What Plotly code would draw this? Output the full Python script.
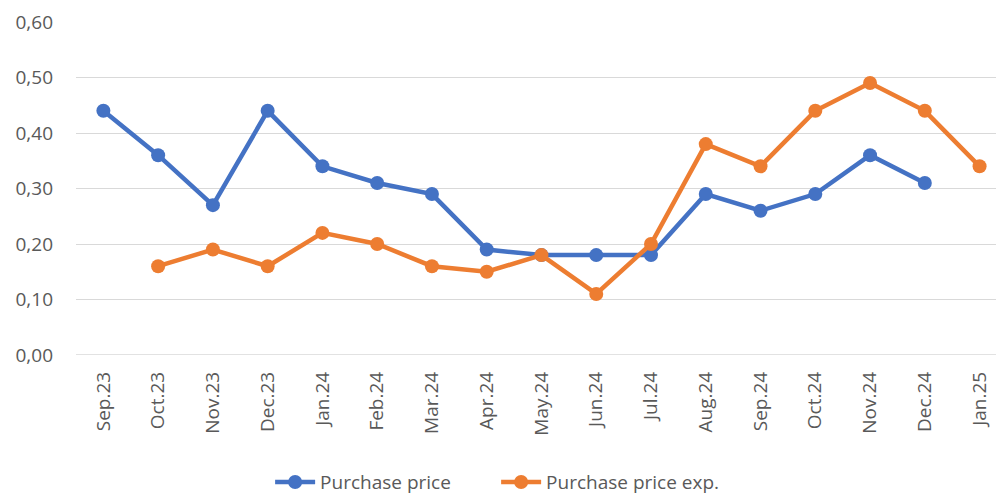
import plotly.graph_objects as go

categories = ["Sep.23", "Oct.23", "Nov.23", "Dec.23", "Jan.24", "Feb.24", "Mar.24",
              "Apr.24", "May.24", "Jun.24", "Jul.24", "Aug.24", "Sep.24", "Oct.24",
              "Nov.24", "Dec.24", "Jan.25"]
purchase_price = [0.44, 0.36, 0.27, 0.44, 0.34, 0.31, 0.29, 0.19, 0.18, 0.18, 0.18,
                  0.29, 0.26, 0.29, 0.36, 0.31, None]
purchase_price_exp = [None, 0.16, 0.19, 0.16, 0.22, 0.20, 0.16, 0.15, 0.18, 0.11, 0.20,
                      0.38, 0.34, 0.44, 0.49, 0.44, 0.34]
y_ticks = [0.0, 0.1, 0.2, 0.3, 0.4, 0.5, 0.6]

x_idx = list(range(len(categories)))
font_family = "Open Sans, Liberation Sans, sans-serif"
text_color = "#595959"
fs = 19

fig = go.Figure()
fig.add_trace(go.Scatter(
    x=x_idx, y=purchase_price, name="Purchase price", mode="lines+markers",
    line=dict(color="#4472C4", width=4.5), marker=dict(size=14, color="#4472C4"),
    connectgaps=False,
))
fig.add_trace(go.Scatter(
    x=x_idx, y=purchase_price_exp, name="Purchase price exp.", mode="lines+markers",
    line=dict(color="#ED7D31", width=4.5), marker=dict(size=14, color="#ED7D31"),
    connectgaps=False,
))

fig.update_layout(
    width=996, height=495,
    margin=dict(l=76, r=0, t=22, b=139.5, autoexpand=False),
    paper_bgcolor="white", plot_bgcolor="white",
    separators=", ",
    font=dict(family=font_family, size=fs, color=text_color),
    showlegend=True,
    legend=dict(orientation="h", x=0.211, xanchor="left", y=-0.382, yanchor="middle",
                font=dict(size=fs, color=text_color), itemwidth=40,
                entrywidth=171, entrywidthmode="pixels",
                traceorder="normal"),
    xaxis=dict(
        range=[-0.5, 16.3], tickmode="array", tickvals=x_idx, ticktext=categories,
        tickangle=-90, showgrid=False, zeroline=False, showline=False, ticks="",
        ticklabelstandoff=12, automargin=False,
        tickfont=dict(size=fs, color=text_color),
    ),
    yaxis=dict(
        range=[0, 0.6], tickmode="array", tickvals=y_ticks, tickformat=".2f",
        showgrid=True, gridcolor="#D9D9D9", gridwidth=1.3, zeroline=False,
        showline=False, ticks="", ticklabelstandoff=22, automargin=False,
        tickfont=dict(size=fs, color=text_color),
    ),
)
fig.add_hline(y=0, line=dict(color="#D9D9D9", width=1.5), layer="below")

fig.write_html("out.html", config={"displayModeBar": False},
               post_script="document.body.style.margin='0';document.body.style.overflow='hidden';")
